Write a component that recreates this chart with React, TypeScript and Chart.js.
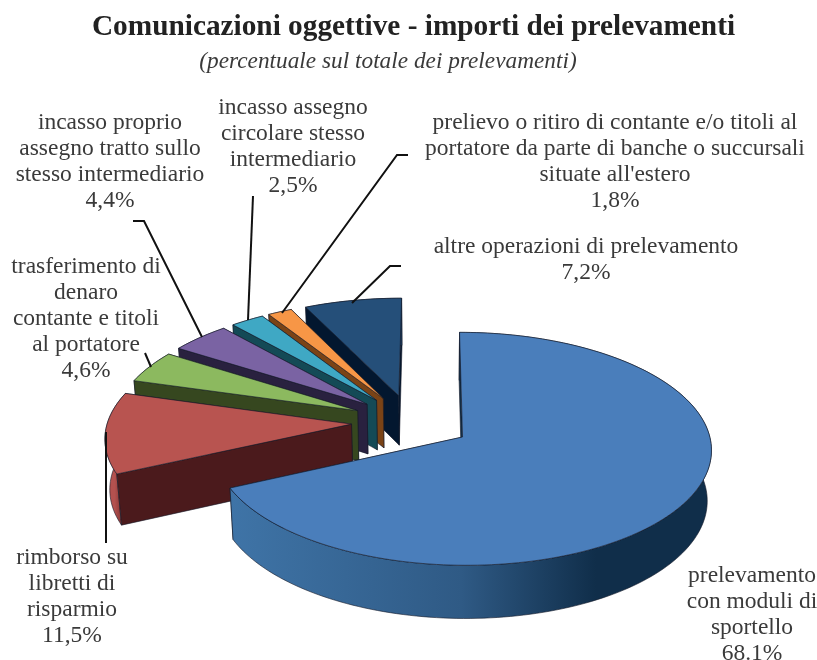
import React, { useEffect, useRef } from "react";
import { Chart, registerables } from "chart.js";

Chart.register(...registerables);

const categories = [
  "prelevamento con moduli di sportello",
  "rimborso su libretti di risparmio",
  "trasferimento di denaro contante e titoli al portatore",
  "incasso proprio assegno tratto sullo stesso intermediario",
  "incasso assegno circolare stesso intermediario",
  "prelievo o ritiro di contante e/o titoli al portatore da parte di banche o succursali situate all'estero",
  "altre operazioni di prelevamento",
];
const values = [68.1, 11.5, 4.6, 4.4, 2.5, 1.8, 7.2];
const valueLabels = ["68.1%", "11,5%", "4,6%", "4,4%", "2,5%", "1,8%", "7,2%"];
const wrappedNames = [
  ["prelevamento", "con moduli di", "sportello"],
  ["rimborso su", "libretti di", "risparmio"],
  ["trasferimento di", "denaro", "contante e titoli", "al portatore"],
  ["incasso proprio", "assegno tratto sullo", "stesso intermediario"],
  ["incasso assegno", "circolare stesso", "intermediario"],
  ["prelievo o ritiro di contante e/o titoli al", "portatore da parte di banche o succursali", "situate all'estero"],
  ["altre operazioni di prelevamento"],
];
const titleText = "Comunicazioni oggettive - importi dei prelevamenti";
const subtitleText = "(percentuale sul totale dei prelevamenti)";

const topColors = ["#4a7ebb", "#b85450", "#8cb95f", "#7a63a3", "#3fa8c4", "#f79646", "#254f79"];
const wallColors = ["#123049", "#4b1a1c", "#36471f", "#29213f", "#144a56", "#7a4316", "#03172f"];
const outerLeft = ["#3f74a7", "#b3514f", "#6f9a48", "#5f4d85", "#2f8aa3", "#c9752f", "#1c3d60"];
const outerRight = ["#102e4a", "#8e3a38", "#6f9a48", "#5f4d85", "#2f8aa3", "#c9752f", "#1c3d60"];

const labelAnchors = [
  { x: 752, y: 582 },
  { x: 72, y: 564 },
  { x: 86, y: 273 },
  { x: 110, y: 129 },
  { x: 293, y: 114 },
  { x: 615, y: 129 },
  { x: 586, y: 253 },
];
const leaders: number[][][] = [
  [],
  [[106, 432], [106, 543]],
  [[145, 353], [151, 367]],
  [[133, 221], [144, 221], [202, 337]],
  [[253, 196], [248, 320]],
  [[408, 155], [397, 155], [282, 313]],
  [[401, 266], [390, 266], [352, 303]],
];

const VIEW = { cx: 411.5, cy: 422, vx: 430, k: 0.46, p: 0.1, R: 244, explode: 60, depth: 50, taper: 0.015 };
const SERIF = "'Liberation Serif', serif";

function project(u: number, v: number, z: number): [number, number] {
  const s = 1 / (1 - (VIEW.p * v) / VIEW.R);
  let x = VIEW.vx + (VIEW.cx - VIEW.vx + u) * s;
  const y = VIEW.cy + VIEW.k * v * s + VIEW.depth * z * (1 + (s - 1) * 0.5);
  x = VIEW.vx + (x - VIEW.vx) * (1 - VIEW.taper * z);
  return [x, y];
}

function fillPoly(ctx: CanvasRenderingContext2D, pts: [number, number][], fill: any, stroke = "rgba(20,25,40,0.75)") {
  ctx.beginPath();
  pts.forEach((p, i) => (i ? ctx.lineTo(p[0], p[1]) : ctx.moveTo(p[0], p[1])));
  ctx.closePath();
  ctx.fillStyle = fill;
  ctx.fill();
  ctx.strokeStyle = stroke;
  ctx.lineWidth = 0.8;
  ctx.stroke();
}

const pie3d = {
  id: "pie3d",
  beforeDatasetsDraw(chart: any) {
    const ctx: CanvasRenderingContext2D = chart.ctx;
    const arcs = chart.getDatasetMeta(0).data;
    for (let i = arcs.length - 1; i >= 0; i--) {
      const { startAngle: a0, endAngle: a1 } = arcs[i];
      const mid = (a0 + a1) / 2;
      const ox = Math.cos(mid) * VIEW.explode;
      const oy = Math.sin(mid) * VIEW.explode;
      const n = Math.max(6, Math.ceil((a1 - a0) * 40));
      const rim: [number, number][] = [];
      for (let j = 0; j <= n; j++) {
        const a = a0 + ((a1 - a0) * j) / n;
        rim.push([ox + Math.cos(a) * VIEW.R, oy + Math.sin(a) * VIEW.R]);
      }
      const top = rim.map((p) => project(p[0], p[1], 0));
      const bot = rim.map((p) => project(p[0], p[1], 1));
      const apexT = project(ox, oy, 0);
      const apexB = project(ox, oy, 1);
      const xs = top.map((p) => p[0]);
      const lo = Math.min(...xs);
      const hi = Math.max(...xs);
      const g = ctx.createLinearGradient(lo, 0, hi, 0);
      g.addColorStop(0, outerLeft[i]);
      g.addColorStop(0.48, i === 0 ? "#2f5a85" : outerLeft[i]);
      g.addColorStop(0.76, outerRight[i]);
      g.addColorStop(1, outerRight[i]);
      fillPoly(ctx, [apexT, top[n], bot[n], apexB], wallColors[i]);
      fillPoly(ctx, [...top, ...bot.slice().reverse()], g);
      fillPoly(ctx, [apexT, top[0], bot[0], apexB], wallColors[i]);
      fillPoly(ctx, [apexT, ...top], topColors[i]);
    }
    return false;
  },
  afterDraw(chart: any) {
    const ctx: CanvasRenderingContext2D = chart.ctx;
    ctx.save();
    ctx.strokeStyle = "#111";
    ctx.lineWidth = 2;
    leaders.forEach((pts) => {
      if (!pts.length) return;
      ctx.beginPath();
      pts.forEach((p, i) => (i ? ctx.lineTo(p[0], p[1]) : ctx.moveTo(p[0], p[1])));
      ctx.stroke();
    });
    ctx.textAlign = "center";
    ctx.textBaseline = "alphabetic";
    ctx.fillStyle = "#3a3a3a";
    ctx.font = `italic 23.3px ${SERIF}`;
    ctx.fillText(subtitleText, 388, 68);
    ctx.font = `23.5px ${SERIF}`;
    wrappedNames.forEach((lines, i) => {
      const all = [...lines, valueLabels[i]];
      all.forEach((t, j) => ctx.fillText(t, labelAnchors[i].x, labelAnchors[i].y + j * 26));
    });
    ctx.restore();
  },
};

export default function App() {
  const ref = useRef<HTMLCanvasElement>(null);
  useEffect(() => {
    const chart = new Chart(ref.current as HTMLCanvasElement, {
      type: "pie",
      data: {
        labels: categories,
        datasets: [{ data: values, backgroundColor: topColors, borderWidth: 0 }],
      },
      options: {
        animation: false,
        responsive: false,
        layout: { padding: { left: 10 } },
        plugins: {
          legend: { display: false },
          tooltip: { enabled: false },
          title: {
            display: true,
            text: titleText,
            color: "#222",
            font: { family: SERIF, size: 29.3, weight: "bold" },
            padding: { top: 10, bottom: 10 },
          },
        },
      },
      plugins: [pie3d],
    } as any);
    return () => chart.destroy();
  }, []);
  return (
    <div style={{ position: "absolute", left: 0, top: 0, width: 817, height: 660, background: "#fff" }}>
      <canvas ref={ref} width={817} height={660} style={{ display: "block" }} />
    </div>
  );
}
